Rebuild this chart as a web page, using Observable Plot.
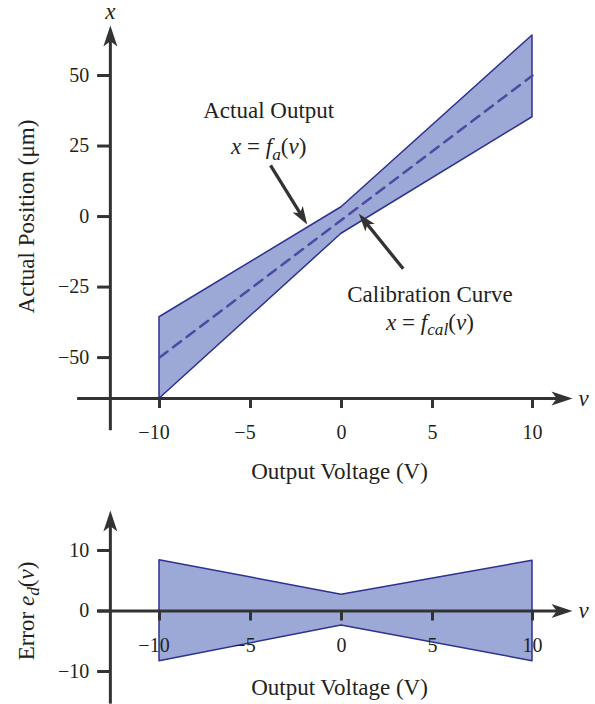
<!DOCTYPE html>
<html><head><meta charset="utf-8">
<script src="https://cdn.jsdelivr.net/npm/d3@7"></script>
<script src="https://cdn.jsdelivr.net/npm/@observablehq/plot@0.6"></script>
<style>
html,body{margin:0;padding:0;background:#fff;}
#chart svg{display:block;overflow:visible;}
#chart text{white-space:pre;}
</style></head><body><div id="chart"></div>
<script>
// ---------------- data ----------------
const voltage = [-10, 0, 10];
const actualUpper = [-35.7, 3.3, 64.2];
const actualLower = [-64.6, -6.1, 35.2];
const calVoltage = [-10, 10];
const calPosition = [-50, 50];
const errorUpper = [8.4, 2.7, 8.3];
const errorLower = [-8.3, -2.4, -8.3];
const xTicks = [-10, -5, 0, 5, 10];
const yTicksTop = [-50, -25, 0, 25, 50];
const yTicksBottom = [-10, 0, 10];
const xLabel = "Output Voltage (V)";
const yLabelTop = "Actual Position (μm)";
const yLabelBottom = "Error <i>e</i><sub>d</sub>(<i>v</i>)";
const annoText = ["Actual Output", "<i>x</i> = <i>f</i><sub>a</sub>(<i>v</i>)", "Calibration Curve", "<i>x</i> = <i>f</i><sub>cal</sub>(<i>v</i>)"];
const annoV = [-4.0, -4.0, 4.86, 4.86];
const annoX = [35.0, 22.0, -30.4, -40.1];
const pointerTail = [[-3.90, 18.1], [3.39, -18.5]];
const pointerTip = [[-1.885, -2.84], [0.95, 0.96]];

// ---------------- styles ----------------
const C = {axis: "#333333", text: "#231f20", fill: "#9ca8d6", edge: "#2d318f", dash: "#4b4ba3"};
const FONT = "'Liberation Serif', 'Times New Roman', serif";
const xScale = {type: "linear", domain: [-10, 5, 10], range: [159, 432, 532], axis: null};
const yTopScale = {domain: [-64.5, 50], range: [398, 75], axis: null};
const yBotScale = {domain: [-10, 10], range: [181, 60], axis: null};

const stealth = {
  draw(ctx, l, r) {
    ctx.moveTo(0, -l);
    ctx.lineTo(r, 0);
    ctx.lineTo(0, -l * 0.25);
    ctx.lineTo(-r, 0);
    ctx.closePath();
  }
};
let headShape = stealth;
try { Plot.vector([], {x: 0, y: 0, shape: stealth}); } catch (e) { headShape = "spike"; }

const fmt = d => d < 0 ? "\u2212" + Math.abs(d) : String(d);

function richify(svg) {
  svg.querySelectorAll("text").forEach(t => {
    const s = t.textContent;
    if (s.indexOf("<") < 0) return;
    while (t.firstChild) t.removeChild(t.firstChild);
    const re = /<i>(.*?)<\/i>|<sub>(.*?)<\/sub>|([^<]+)/g;
    let m, shift = 0;
    while ((m = re.exec(s))) {
      const ts = document.createElementNS("http://www.w3.org/2000/svg", "tspan");
      if (m[2] !== undefined) {
        ts.textContent = m[2];
        ts.setAttribute("font-style", "italic");
        ts.setAttribute("font-size", "75%");
        ts.setAttribute("dy", "0.3em");
        shift = 0.225;
      } else {
        ts.textContent = m[1] !== undefined ? m[1] : m[3];
        if (m[1] !== undefined) ts.setAttribute("font-style", "italic");
        if (shift) { ts.setAttribute("dy", (-shift) + "em"); shift = 0; }
      }
      t.appendChild(ts);
    }
  });
}

function axisMarks(ax, yTicks, pxPerUnitY) {
  const tickLenY = 10 / pxPerUnitY;
  return [
    Plot.ruleY([ax.xAt], {x1: ax.vLeft, x2: ax.vLineEnd, stroke: C.axis, strokeWidth: 3}),
    Plot.ruleX([ax.vAt], {y1: ax.yBottom, y2: ax.yLineEnd, stroke: C.axis, strokeWidth: 3}),
    Plot.vector([{v: ax.vAt, x: ax.yTop, rot: 0}, {v: ax.vRight, x: ax.xAt, rot: 90}],
      {x: "v", y: "x", rotate: "rot", length: 21, r: 7, anchor: "end", shape: headShape, fill: C.axis, stroke: "none"}),
    Plot.ruleY(yTicks, {y: d => d, x1: ax.vAt - 0.7, x2: ax.vAt, stroke: C.axis, strokeWidth: 3}),
    Plot.text(yTicks, {y: d => d, x: ax.vAt, text: fmt, dx: -21, textAnchor: "end", lineAnchor: "middle", fontSize: 20, fill: C.text}),
    Plot.ruleX(xTicks, {x: d => d, y1: ax.xAt, y2: ax.xAt - tickLenY, stroke: C.axis, strokeWidth: 3}),
    Plot.text(xTicks.filter(d => d >= 0), {x: d => d, y: ax.xAt, text: fmt, dy: ax.tickDy, lineAnchor: "bottom", fontSize: 20, fill: C.text}),
    Plot.text(xTicks.filter(d => d < 0), {x: d => d, y: ax.xAt, text: fmt, dx: -5.5, dy: ax.tickDy, lineAnchor: "bottom", fontSize: 20, fill: C.text}),
    Plot.text([xLabel], {x: 0, y: ax.xAt, text: d => d, dx: -2, dy: ax.labelDy, lineAnchor: "bottom", fontSize: 23, fill: C.text}),
    Plot.text([ax.yLabel], {frameAnchor: "left", y: 0, text: d => d, dx: 26, rotate: -90, textAnchor: "middle", lineAnchor: "middle", fontSize: 23, fill: C.text}),
    Plot.text(["v"], {x: ax.vRight, y: ax.xAt, text: d => d, dx: 6, textAnchor: "start", lineAnchor: "middle", fontSize: 23, fontStyle: "italic", fill: C.text})
  ];
}

// ---------------- top panel ----------------
const topAx = {xAt: -64.5, vAt: -12.7, vLeft: -14.5, vRight: 12, vLineEnd: 11.3, yBottom: -75.9, yTop: 67.7, yLineEnd: 62.7, tickDy: 40, labelDy: 80, yLabel: yLabelTop};
const topBand = voltage.map((v, i) => ({v, lo: actualLower[i], hi: actualUpper[i]}));
const calRows = calVoltage.map((v, i) => ({v, x: calPosition[i]}));
const annoRows = annoText.map((t, i) => ({t, v: annoV[i], x: annoX[i]}));

const sx = Plot.scale({x: {type: "linear", domain: xScale.domain, range: xScale.range}});
const sy = Plot.scale({y: {domain: yTopScale.domain, range: yTopScale.range}});
const headLen = 18;
const pointerRows = pointerTail.map((tail, i) => {
  const tip = pointerTip[i];
  const p1 = [sx.apply(tail[0]), sy.apply(tail[1])];
  const p2 = [sx.apply(tip[0]), sy.apply(tip[1])];
  const dx = p2[0] - p1[0], dy = p2[1] - p1[1], L = Math.hypot(dx, dy);
  const bx = p2[0] - dx / L * headLen * 0.7, by = p2[1] - dy / L * headLen * 0.7;
  return {v1: tail[0], x1: tail[1], v2: tip[0], x2: tip[1], vb: sx.invert(bx), xb: sy.invert(by),
          rot: Math.atan2(dx, -dy) * 180 / Math.PI};
});

const topChart = Plot.plot({
  width: 595, height: 490, margin: 0,
  style: {fontFamily: FONT, background: "#fff", color: C.text},
  x: {...xScale}, y: {...yTopScale},
  marks: [
    Plot.areaY(topBand, {x: "v", y1: "lo", y2: "hi", fill: C.fill, stroke: C.edge, strokeWidth: 1.5}),
    Plot.line(calRows, {x: "v", y: "x", stroke: C.dash, strokeWidth: 2.5, strokeDasharray: "10,7"}),
    ...axisMarks(topAx, yTicksTop, 323 / 114.5),
    Plot.text(["x"], {x: topAx.vAt, frameAnchor: "top", text: d => d, dy: 18, textAnchor: "middle", lineAnchor: "bottom", fontSize: 23, fontStyle: "italic", fill: C.text}),
    Plot.text(annoRows, {x: "v", y: "x", text: "t", lineAnchor: "bottom", fontSize: 23, fill: C.text}),
    Plot.link(pointerRows, {x1: "v1", y1: "x1", x2: "vb", y2: "xb", stroke: C.axis, strokeWidth: 3.3}),
    Plot.vector(pointerRows, {x: "v2", y: "x2", rotate: "rot", length: headLen, r: 6, anchor: "end", shape: headShape, fill: C.axis, stroke: "none"})
  ]
});

// ---------------- bottom panel ----------------
const botAx = {xAt: 0, vAt: -12.7, vLeft: -13.4, vRight: 12, vLineEnd: 11.3, yBottom: -15.4, yTop: 16.6, yLineEnd: 14.3, tickDy: 41, labelDy: 83.5, yLabel: yLabelBottom};
const botBand = voltage.map((v, i) => ({v, lo: errorLower[i], hi: errorUpper[i]}));

const bottomChart = Plot.plot({
  width: 595, height: 214, margin: 0,
  style: {fontFamily: FONT, background: "#fff", color: C.text},
  x: {...xScale}, y: {...yBotScale},
  marks: [
    Plot.areaY(botBand, {x: "v", y1: "lo", y2: "hi", fill: C.fill, stroke: C.edge, strokeWidth: 1.5}),
    ...axisMarks(botAx, yTicksBottom, 121 / 20)
  ]
});

richify(topChart);
richify(bottomChart);
const host = document.getElementById("chart");
host.appendChild(topChart);
host.appendChild(bottomChart);
</script></body></html>
